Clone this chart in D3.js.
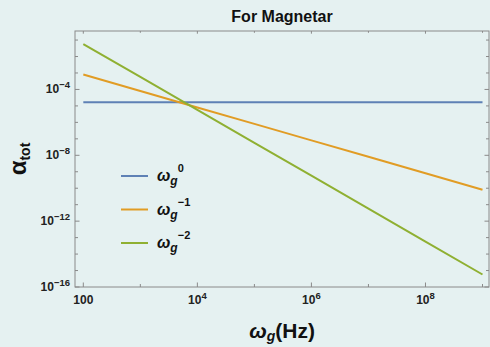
<!DOCTYPE html>
<html>
<head>
<meta charset="utf-8">
<script src="https://cdn.jsdelivr.net/npm/d3@7"></script>
<style>
  html, body { margin: 0; padding: 0; background: #e5f1f1; }
  svg { display: block; font-family: "Liberation Sans", Arial, sans-serif; }
</style>
</head>
<body>
<svg id="chart" width="490" height="347"></svg>
<script>
// data (one value per decade of omega_g)
const omega = [1e2, 1e3, 1e4, 1e5, 1e6, 1e7, 1e8, 1e9]
const alpha0 = [1.66e-5, 1.66e-5, 1.66e-5, 1.66e-5, 1.66e-5, 1.66e-5, 1.66e-5, 1.66e-5]
const alpha1 = [8.1e-4, 8.1e-5, 8.1e-6, 8.1e-7, 8.1e-8, 8.1e-9, 8.1e-10, 8.1e-11]
const alpha2 = [5.75e-2, 5.75e-4, 5.75e-6, 5.75e-8, 5.75e-10, 5.75e-12, 5.75e-14, 5.75e-16]
const seriesNames = ['0', '\u22121', '\u22122']
const colors = ['#5e81b5', '#e19c24', '#8fb032']

const xTicks = [1e2, 1e3, 1e4, 1e5, 1e6, 1e7, 1e8, 1e9]
const xLabels = { 2: '', 4: '4', 6: '6', 8: '8' }
const yTicks = d3.range(-16, 0).map(e => Math.pow(10, e))
const yLabels = { '-4': '\u22124', '-8': '\u22128', '-12': '\u221212', '-16': '\u221216' }

const margin = { left: 75, right: 1, top: 31, bottom: 60 }
const W = 490, H = 347
const svg = d3.select('#chart')

const x = d3.scaleLog().domain([71.5, 1.3e9]).range([margin.left, W - margin.right])
const y = d3.scaleLog().domain([1e-16, 0.355]).range([H - margin.bottom, margin.top])

const x0 = margin.left, x1 = W - margin.right
const y0 = H - margin.bottom, y1 = margin.top
const frameColor = '#8a8a8a'

// lines
const line = d3.line().x(d => x(d[0])).y(d => y(d[1]))
const series = [alpha0, alpha1, alpha2]
series.forEach((vals, i) => {
  svg.append('path')
    .datum(omega.map((w, j) => [w, vals[j]]))
    .attr('d', line)
    .attr('fill', 'none')
    .attr('stroke', colors[i])
    .attr('stroke-width', 2)
})

// frame
svg.append('rect')
  .attr('x', x0).attr('y', y1)
  .attr('width', x1 - x0).attr('height', y0 - y1)
  .attr('fill', 'none').attr('stroke', frameColor).attr('stroke-width', 1)

// ticks on all four sides, pointing in
const gt = svg.append('g').attr('stroke', frameColor).attr('stroke-width', 1)
xTicks.forEach(t => {
  const e = Math.round(Math.log10(t))
  const len = (e in xLabels) ? 4.5 : 3
  const px = x(t)
  gt.append('line').attr('x1', px).attr('x2', px).attr('y1', y0).attr('y2', y0 - len)
  gt.append('line').attr('x1', px).attr('x2', px).attr('y1', y1).attr('y2', y1 + len * 0.6)
})
yTicks.forEach(t => {
  const e = Math.round(Math.log10(t))
  const len = (String(e) in yLabels) ? 4.5 : 3
  const py = y(t)
  gt.append('line').attr('x1', x0).attr('x2', x0 + len).attr('y1', py).attr('y2', py)
  gt.append('line').attr('x1', x1).attr('x2', x1 - len).attr('y1', py).attr('y2', py)
})

// x tick labels
xTicks.forEach(t => {
  const e = Math.round(Math.log10(t))
  if (!(e in xLabels)) return
  const txt = svg.append('text')
    .attr('x', x(t)).attr('y', y0 + 17)
    .attr('text-anchor', 'middle')
    .attr('font-size', 12).attr('font-weight', 'bold').attr('fill', '#222')
  if (e === 2) {
    txt.text('100')
  } else {
    txt.append('tspan').text('10')
    txt.append('tspan').attr('dy', -5).attr('font-size', 9.5).text(xLabels[e])
  }
})

// y tick labels
yTicks.forEach(t => {
  const e = Math.round(Math.log10(t))
  if (!(String(e) in yLabels)) return
  const txt = svg.append('text')
    .attr('x', x0 - 5).attr('y', y(t) + 4)
    .attr('text-anchor', 'end')
    .attr('font-size', 12).attr('font-weight', 'bold').attr('fill', '#222')
  txt.append('tspan').text('10')
  txt.append('tspan').attr('dy', -5).attr('font-size', 9.5).text(yLabels[String(e)])
})

// title
svg.append('text')
  .attr('x', (x0 + x1) / 2).attr('y', 22)
  .attr('text-anchor', 'middle')
  .attr('font-size', 16).attr('font-weight', 'bold').attr('fill', '#111')
  .text('For Magnetar')

// x axis label
const xl = svg.append('text')
  .attr('x', (x0 + x1) / 2).attr('y', 338)
  .attr('text-anchor', 'middle')
  .attr('font-size', 21).attr('font-weight', 'bold').attr('fill', '#111')
xl.append('tspan').attr('font-style', 'italic').text('\u03c9')
xl.append('tspan').attr('font-style', 'italic').attr('font-size', 14).attr('dy', 3).text('g')
xl.append('tspan').attr('dy', -3).text('(Hz)')

// y axis label
const yl = svg.append('text')
  .attr('transform', `translate(26, ${(y0 + y1) / 2}) rotate(-90)`)
  .attr('text-anchor', 'middle')
  .attr('font-size', 24).attr('font-weight', 'bold').attr('fill', '#111')
yl.append('tspan').text('\u03b1')
yl.append('tspan').attr('font-size', 14).attr('dy', 4).text('tot')

// legend
const legend = svg.append('g').attr('transform', 'translate(121, 176)')
seriesNames.forEach((name, i) => {
  const g = legend.append('g').attr('transform', `translate(0, ${i * 33.5})`)
  g.append('line').attr('x1', 0).attr('x2', 27).attr('y1', 0).attr('y2', 0)
    .attr('stroke', colors[i]).attr('stroke-width', 2)
  const t = g.append('text').attr('x', 36).attr('y', 5)
    .attr('font-size', 16).attr('font-weight', 'bold').attr('fill', '#111')
  t.append('tspan').attr('font-style', 'italic').text('\u03c9')
  t.append('tspan').attr('font-style', 'italic').attr('font-size', 12).attr('dy', 4).text('g')
  t.append('tspan').attr('font-size', 11).attr('dy', -13).text(name)
})
</script>
</body>
</html>
